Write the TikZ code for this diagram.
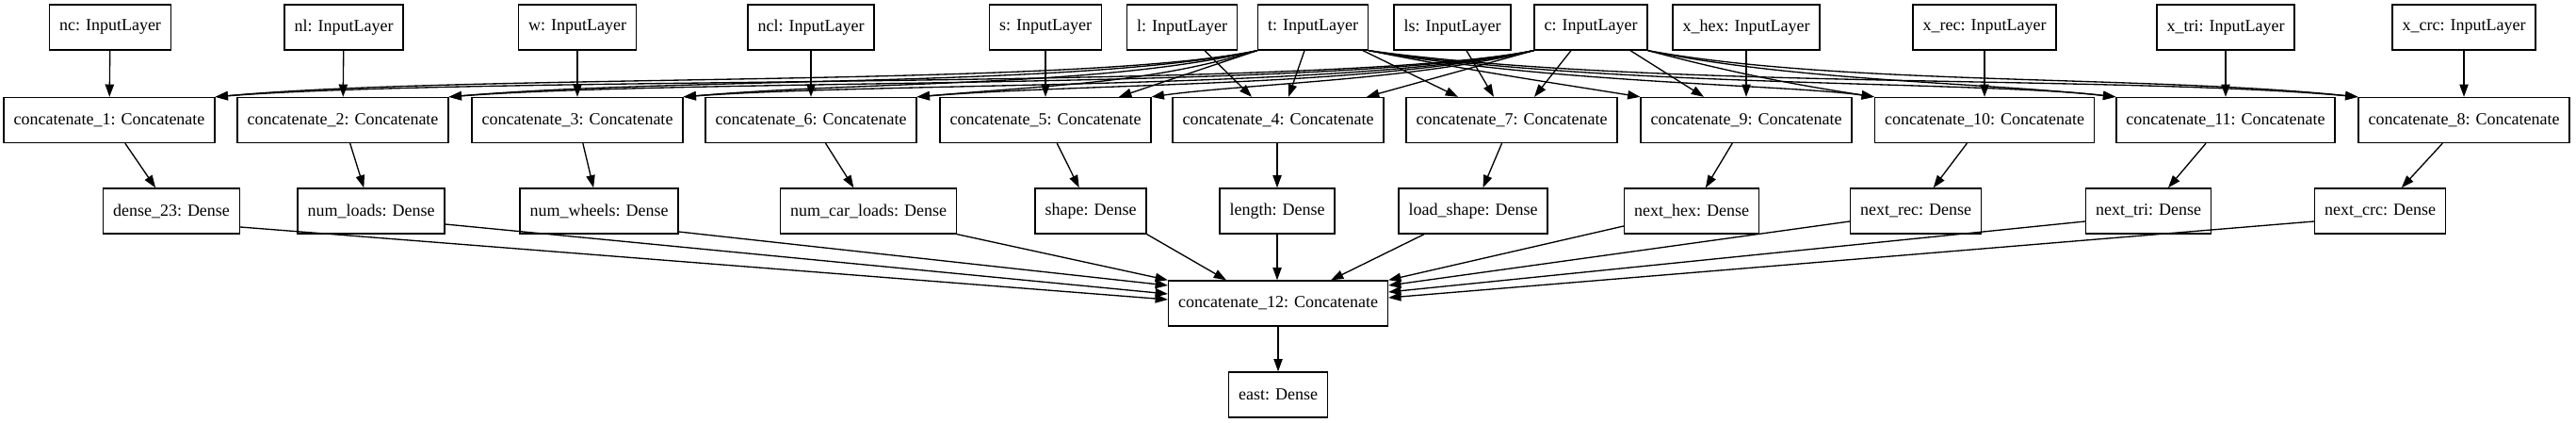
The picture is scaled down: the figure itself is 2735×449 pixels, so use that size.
\documentclass[tikz,border=0pt]{standalone}
\usepackage{fontspec}
\setmainfont{Liberation Serif}
\usetikzlibrary{arrows.meta,calc}
\begin{document}
\begin{tikzpicture}[x=1pt,y=-1pt,
  box/.style={draw,line width=1.33pt,font=\fontsize{18pt}{21pt}\selectfont,inner xsep=10.5pt,inner ysep=0pt,minimum height=48pt},
  e/.style={line width=1.33pt,-{Triangle[length=13.3pt,width=9.3pt]}}]
\useasboundingbox (0,0) rectangle (2735,449);
% input row
\node[box] (inc)  at (117,29)  {nc: InputLayer};
\node[box] (inl)  at (365,29)  {nl: InputLayer};
\node[box] (iw)   at (613,29)  {w: InputLayer};
\node[box] (incl) at (861,29)  {ncl: InputLayer};
\node[box] (is)   at (1110,29) {s: InputLayer};
\node[box] (il)   at (1255,29) {l: InputLayer};
\node[box] (it)   at (1394,29) {t: InputLayer};
\node[box] (ils)  at (1542,29) {ls: InputLayer};
\node[box] (ic)   at (1689,29) {c: InputLayer};
\node[box] (ixhex) at (1854,29) {x\_hex: InputLayer};
\node[box] (ixrec) at (2107,29) {x\_rec: InputLayer};
\node[box] (ixtri) at (2363,29) {x\_tri: InputLayer};
\node[box] (ixcrc) at (2616,29) {x\_crc: InputLayer};
% concatenate row
\node[box] (ca1)  at (116,127.5)  {concatenate\_1: Concatenate};
\node[box] (ca2)  at (364,127.5)  {concatenate\_2: Concatenate};
\node[box] (ca3)  at (613,127.5)  {concatenate\_3: Concatenate};
\node[box] (ca6)  at (861,127.5)  {concatenate\_6: Concatenate};
\node[box] (ca5)  at (1110,127.5) {concatenate\_5: Concatenate};
\node[box] (ca4)  at (1357,127.5) {concatenate\_4: Concatenate};
\node[box] (ca7)  at (1605,127.5) {concatenate\_7: Concatenate};
\node[box] (ca9)  at (1854,127.5) {concatenate\_9: Concatenate};
\node[box] (ca10) at (2107,127.5) {concatenate\_10: Concatenate};
\node[box] (ca11) at (2363,127.5) {concatenate\_11: Concatenate};
\node[box] (ca8)  at (2616,127.5) {concatenate\_8: Concatenate};
% dense row
\node[box] (d23)   at (182,224)  {dense\_23: Dense};
\node[box] (dnl)   at (394,224)  {num\_loads: Dense};
\node[box] (dnw)   at (636,224)  {num\_wheels: Dense};
\node[box] (dncl)  at (922,224)  {num\_car\_loads: Dense};
\node[box] (dsh)   at (1158,224) {shape: Dense};
\node[box] (dlen)  at (1356,224) {length: Dense};
\node[box] (dls)   at (1564,224) {load\_shape: Dense};
\node[box] (dhex)  at (1796,224) {next\_hex: Dense};
\node[box] (drec)  at (2034,224) {next\_rec: Dense};
\node[box] (dtri)  at (2281,224) {next\_tri: Dense};
\node[box] (dcrc)  at (2527,224) {next\_crc: Dense};
% bottom
\node[box] (c12)  at (1357,322) {concatenate\_12: Concatenate};
\node[box] (east) at (1357,419) {east: Dense};

% specific inputs -> concatenates
\draw[e] (inc) -- (ca1);
\draw[e] (inl) -- (ca2);
\draw[e] (iw) -- (ca3);
\draw[e] (incl) -- (ca6);
\draw[e] (is) -- (ca5);
\draw[e] ($(il.south)+(24,0)$) -- ($(ca4.north)+(-28,0)$);
\draw[e] ($(ils.south)+(15,0)$) -- ($(ca7.north)+(-19,0)$);
\draw[e] (ixhex) -- (ca9);
\draw[e] (ixrec) -- (ca10);
\draw[e] (ixtri) -- (ca11);
\draw[e] (ixcrc) -- (ca8);

% t and c -> left concatenates
\draw[e] (it.south west) .. controls +(-186,39) and +(273,-25) .. (ca1.north east);
\draw[e] (ic.south west) .. controls +(-210,42) and +(293,-23) .. (ca1.north east);
\draw[e] (it.south west) .. controls +(-186,39) and +(245,-21) .. (ca2.north east);
\draw[e] (ic.south west) .. controls +(-210,42) and +(265,-20) .. (ca2.north east);
\draw[e] (it.south west) .. controls +(-166,39) and +(196,-17) .. (ca3.north east);
\draw[e] (ic.south west) .. controls +(-200,42) and +(216,-16) .. (ca3.north east);
\draw[e] (it.south west) .. controls +(-116,35) and +(148,-13) .. (ca6.north east);
\draw[e] (ic.south west) .. controls +(-180,39) and +(188,-15) .. (ca6.north east);
% t and c -> middle concatenates
\draw[e] (it.south west) -- ($(ca5.north)+(78,0)$);
\draw[e] (ic.south west) .. controls +(-130,32) and +(100,-14) .. (ca5.north east);
\draw[e] ($(it.south)+(-9,0)$) -- ($(ca4.north)+(11,0)$);
\draw[e] (ic.south west) -- ($(ca4.north)+(94,0)$);
\draw[e] ($(it.south)+(53,0)$) -- ($(ca7.north)+(-57,0)$);
\draw[e] ($(ic.south)+(-21,0)$) -- ($(ca7.north)+(24,0)$);
\draw[e] (it.south east) .. controls +(100,20) and +(-100,-16) .. (ca9.north west);
\draw[e] ($(ic.south)+(42,0)$) -- ($(ca9.north)+(-45,0)$);
% t and c -> right concatenates
\draw[e] (it.south east) .. controls +(198,35) and +(-91,-13) .. (ca10.north west);
\draw[e] (ic.south east) .. controls +(102,27) and +(-71,-11) .. (ca10.north west);
\draw[e] (it.south east) .. controls +(248,39) and +(-148,-17) .. (ca11.north west);
\draw[e] (ic.south east) .. controls +(152,32) and +(-138,-15) .. (ca11.north west);
\draw[e] (it.south east) .. controls +(298,41) and +(-255,-23) .. (ca8.north west);
\draw[e] (ic.south east) .. controls +(202,37) and +(-225,-23) .. (ca8.north west);

% concatenates -> dense
\draw[e] (ca1) -- (d23);
\draw[e] (ca2) -- (dnl);
\draw[e] (ca3) -- (dnw);
\draw[e] (ca6) -- (dncl);
\draw[e] (ca5) -- (dsh);
\draw[e] (ca4.south -| dlen.north) -- (dlen);
\draw[e] (ca7) -- (dls);
\draw[e] (ca9) -- (dhex);
\draw[e] (ca10) -- (drec);
\draw[e] (ca11) -- (dtri);
\draw[e] (ca8) -- (dcrc);

% dense -> concatenate_12
\draw[e] ($(d23.east)+(0,17)$) -- ($(c12.west)+(0,-4)$);
\draw[e] ($(dnl.east)+(0,14)$) -- ($(c12.west)+(0,-10)$);
\draw[e] ($(dnw.east)+(0,22)$) -- ($(c12.west)+(0,-19)$);
\draw[e] (dncl.south east) -- (c12.north west);
\draw[e] (dsh.south east) -- ($(c12.north)+(-55,0)$);
\draw[e] (dlen) -- (dlen.south |- c12.north);
\draw[e] ($(dls.south)+(-52,0)$) -- ($(c12.north)+(56,0)$);
\draw[e] ($(dhex.west)+(0,16)$) -- (c12.north east);
\draw[e] ($(drec.west)+(0,11)$) -- ($(c12.east)+(0,-19)$);
\draw[e] ($(dtri.west)+(0,11)$) -- ($(c12.east)+(0,-12)$);
\draw[e] ($(dcrc.west)+(0,11)$) -- ($(c12.east)+(0,-6)$);
\draw[e] (c12) -- (east);
\end{tikzpicture}
\end{document}
